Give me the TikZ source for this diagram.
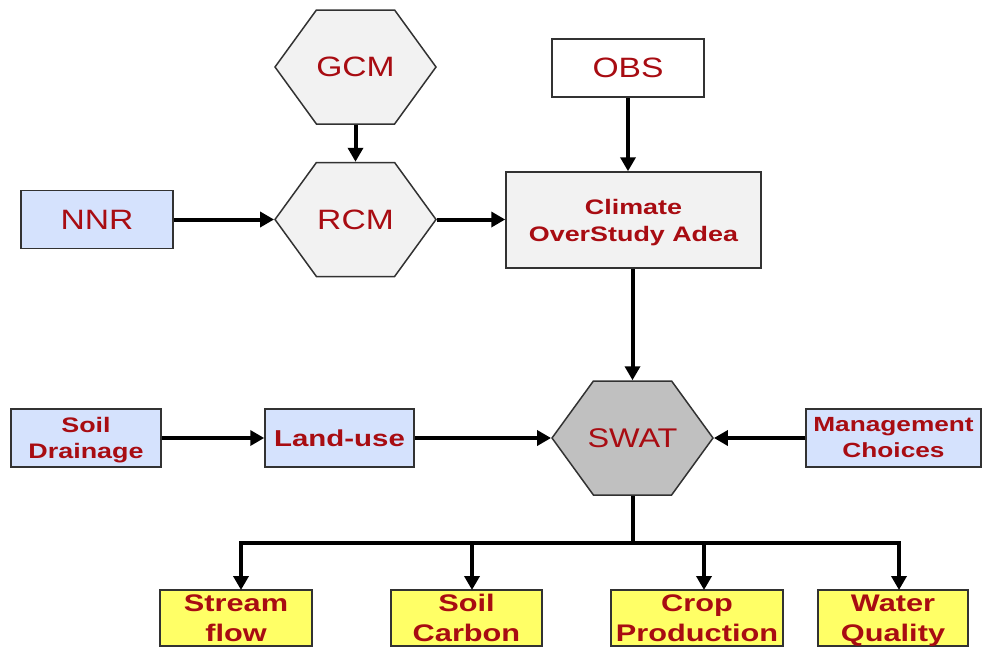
\documentclass[tikz,border=0pt]{standalone}
\usepackage{fontspec}
\setmainfont{Liberation Sans}
\newfontfamily\plainface{Liberation Sans}[FakeStretch=1.2]
\newfontfamily\heavyface{Liberation Sans}[FakeStretch=1.28]
\usetikzlibrary{arrows.meta,shapes.symbols}

% last line of a label: keep its descenders out of the vertical centring
\newcommand\flatline[1]{\raisebox{0pt}[\height][0pt]{#1}}
% hexagon label: a fixed-width box so the shape keeps its size
\newcommand\hexlabel[1]{\makebox[60pt]{#1}}

\definecolor{labelred}{RGB}{168,12,18}
\definecolor{paleblue}{RGB}{213,226,253}
\definecolor{palegray}{RGB}{242,242,242}
\definecolor{hexgray}{RGB}{192,192,192}
\definecolor{brightyellow}{RGB}{255,255,102}
\definecolor{edgegray}{RGB}{50,50,50}

\tikzset{
  box/.style={draw=edgegray, line width=1.5pt, inner sep=0pt, text=labelred, align=center},
  plainlabel/.style={font=\plainface\fontsize{28}{32}\selectfont},
  hexa/.style={shape=signal, signal to=west and east, signal pointer angle=108,
    draw=edgegray, line width=1.5pt, fill=palegray, inner sep=0pt,
    minimum width=161pt, minimum height=114pt, text=labelred, plainlabel},
  bluebox/.style={box, fill=paleblue, minimum width=150pt, minimum height=58pt},
  yellowbox/.style={box, fill=brightyellow, minimum height=56pt,
    font=\heavyface\bfseries\fontsize{24}{30}\selectfont},
  link/.style={line width=4pt, -{Triangle[length=14pt,width=15pt]}},
  busline/.style={line width=4pt, line cap=rect}
}

\begin{document}
\begin{tikzpicture}[x=1pt, y=-1pt]
\useasboundingbox (0,0) rectangle (983,648);

% climate models and observations
\node[hexa] (gcm) at (355.5,67) {\hexlabel{GCM}};
\node[hexa] (rcm) at (355.5,219.5) {\hexlabel{RCM}};
\node[bluebox, minimum width=152pt, plainlabel] (nnr) at (97,219.5) {NNR};
\node[box, fill=white, minimum width=152pt, minimum height=58pt, plainlabel] (obs) at (628,68) {OBS};
\node[box, fill=palegray, minimum width=255pt, minimum height=96pt,
      font=\heavyface\bfseries\fontsize{21}{27}\selectfont] (climate) at (633.5,220)
      {Climate\\\flatline{OverStudy Adea}};

% hydrological model and its inputs
\node[hexa, fill=hexgray, font=\plainface\fontsize{27}{32}\selectfont] (swat) at (632.5,438) {\hexlabel{SWAT}};
\node[bluebox, font=\heavyface\bfseries\fontsize{21}{26}\selectfont] (soil) at (86,438) {Soil\\\flatline{Drainage}};
\node[bluebox, minimum width=149pt, font=\heavyface\bfseries\fontsize{23}{28}\selectfont] (land) at (339.5,438) {Land-use};
\node[bluebox, minimum width=175pt, font=\heavyface\bfseries\fontsize{20.5}{26}\selectfont] (mgmt) at (893.5,438) {\flatline{Management}\\Choices};

% outputs
\node[yellowbox, minimum width=152pt] (stream) at (236,618) {Stream\\\flatline{flow}};
\node[yellowbox, minimum width=151pt] (carbon) at (466.5,618) {Soil\\\flatline{Carbon}};
\node[yellowbox, minimum width=172pt] (crop) at (697,618) {Crop\\\flatline{Production}};
\node[yellowbox, minimum width=150pt] (water) at (893,618) {Water\\\flatline{Quality}};

% connectors
\draw[link] (gcm.south) -- (rcm.north);
\draw[link] (nnr.east) -- (rcm.west);
\draw[link] (rcm.east) -- (rcm.east -| climate.west);
\draw[link] (obs.south) -- (obs.south |- climate.north);
\draw[link] (climate.south -| swat.north) -- (swat.north);
\draw[link] (soil.east) -- (land.west);
\draw[link] (land.east) -- (swat.west);
\draw[link] (mgmt.west) -- (swat.east);

\coordinate (bus) at (632.5,543);
\coordinate (tipA) at (241,590);
\coordinate (tipB) at (472,590);
\coordinate (tipC) at (704,590);
\coordinate (tipD) at (899,590);
\draw[line width=4pt] (swat.south) -- (bus);
\draw[busline] (tipA |- bus) -- (tipD |- bus);
\draw[link] (tipA |- bus) -- (tipA);
\draw[link] (tipB |- bus) -- (tipB);
\draw[link] (tipC |- bus) -- (tipC);
\draw[link] (tipD |- bus) -- (tipD);
\end{tikzpicture}
\end{document}
